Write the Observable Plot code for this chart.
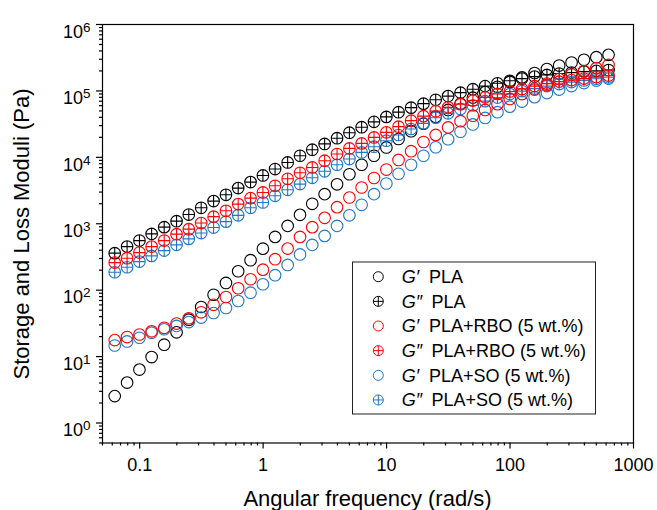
<!DOCTYPE html>
<html><head><meta charset="utf-8">
<script src="https://cdn.jsdelivr.net/npm/d3@7"></script>
<script src="https://cdn.jsdelivr.net/npm/@observablehq/plot@0.6"></script>
<style>
body{margin:0;background:#fff;}
#chart svg{font-family:"Liberation Sans",Arial,sans-serif;display:block;}
</style>
</head><body><div id="chart"></div>
<script>
// Angular frequency (rad/s)
const freq = [0.0628,0.0791,0.0996,0.125,0.158,0.199,0.25,0.315,0.397,0.5,0.628,0.791,0.996,1.25,1.58,1.99,2.5,3.15,3.97,5,6.28,7.91,9.96,12.5,15.8,19.9,25,31.5,39.7,50,62.8,79.1,99.6,125,158,199,250,315,397,500,628];
// Moduli (Pa)
const gpPLA  = [2.54,4.06,6.37,9.83,15.1,23.2,35.9,55.8,85.3,128.5,192.8,283,422,634,929,1361,1995,2793,3926,5560,7730,10570,14100,18880,24760,32140,40960,51680,64330,79250,95940,115300,136700,159900,186200,213300,240800,267300,294400,322200,349100];
const gppPLA = [361,453,558,704,889,1094,1377,1738,2193,2729,3443,4239,5336,6662,8375,10570,13020,15920,19410,23500,28440,34200,40640,47860,55970,64330,73470,83510,94230,106100,118100,130300,142000,153400,164300,174300,182500,188800,195500,200400,206100];
const gpRBO  = [17.7,19.7,21.5,24.0,27.1,31.4,37.8,46.4,60.2,78.9,106.9,146,203.7,292.4,422.5,634,889,1227,1778,2483,3516,4887,6546,9141,12360,17010,21770,28250,35010,42400,51680,63240,75710,89540,104700,122300,150700,176200,199000,220600,246600];
const gppRBO = [260,303,368,453,558,697,829,1025,1279,1566,1976,2432,2958,3733,4755,5861,7047,8892,11220,13620,16210,19950,23760,28960,35650,41690,49550,56580,63240,71450,80000,90160,98200,107200,118100,128900,138000,145500,153400,161500,170100];
const gpSO   = [14.7,16.9,19.2,22.9,25.8,29.0,33.1,38.7,45.3,53.9,68.7,91.7,122.7,167.9,239.9,345.3,480.8,656.6,929,1339,1928,2793,4036,5662,7730,10570,14190,18750,24320,31260,39170,47860,57940,69020,80540,92680,104700,118100,131200,142900,153400];
const gppSO  = [186.2,221.3,269.2,328.1,394.5,480.8,591.6,724.4,877,1076,1339,1738,2089,2636,3243,3954,4920,6166,7730,9419,11860,14450,17790,21690,26720,32460,39540,45920,53560,60390,70150,79250,89540,99300,108400,118100,126700,135800,143900,152400,160300];

const seriesMod    = ["G′","G″","G′","G″","G′","G″"];
const seriesLabel  = ["PLA","PLA","PLA+RBO (5 wt.%)","PLA+RBO (5 wt.%)","PLA+SO (5 wt.%)","PLA+SO (5 wt.%)"];
const seriesValues = [gpPLA,gppPLA,gpRBO,gppRBO,gpSO,gppSO];
const seriesColor  = ["#000000","#000000","#FF0000","#FF0000","#1F77C8","#1F77C8"];
const drawOrder    = [0,1,4,5,2,3];

const xTicks = [0.1,1,10,100,1000];
const xTickLabels = ["0.1","1","10","100","1000"];
const yTicks = [1,10,100,1000,10000,100000,1000000];
const yExponents = ["0","1","2","3","4","5","6"];

const xMinor = [];
for (let e = -2; e <= 2; e++) for (let m = 2; m <= 9; m++) { const v = m * Math.pow(10, e); if (v >= 0.05 && v <= 1000) xMinor.push(v); }
const yMinor = [];
for (let e = -1; e <= 5; e++) for (let m = 2; m <= 9; m++) { const v = m * Math.pow(10, e); if (v >= 0.5 && v <= 1e6) yMinor.push(v); }

const circlePlus = {
  draw(ctx, size) {
    const r = Math.sqrt(size / Math.PI);
    ctx.moveTo(r, 0); ctx.arc(0, 0, r, 0, 2 * Math.PI);
    ctx.moveTo(-r, 0); ctx.lineTo(r, 0);
    ctx.moveTo(0, -r); ctx.lineTo(0, r);
  }
};

const dotMarks = drawOrder.map(k => {
  const rows = freq.map((f, i) => ({f, v: seriesValues[k][i]}));
  return Plot.dot(rows, {
    x: "f", y: "v", r: 5.8,
    symbol: seriesMod[k] === "G″" ? circlePlus : "circle",
    stroke: seriesColor[k], fill: "none", strokeWidth: 1.1
  });
});

const chart = Plot.plot({
  width: 657, height: 510,
  marginLeft: 102, marginRight: 24, marginTop: 24, marginBottom: 67.5,
  style: {fontFamily: '"Liberation Sans", Arial, sans-serif', fontSize: "18px", color: "#000", background: "#fff"},
  x: {type: "log", domain: [0.05, 1000]},
  y: {type: "log", domain: [0.5, 1e6]},
  marks: [
    Plot.axisX(xMinor, {tickSize: 3, tickFormat: () => "", label: null, strokeWidth: 1.2}),
    Plot.axisX(xTicks, {tickSize: 6, tickPadding: 9.5, tickFormat: d => xTickLabels[xTicks.indexOf(d)], label: null, strokeWidth: 1.2, fontSize: 18}),
    Plot.axisY(yMinor, {tickSize: 3, tickFormat: () => "", label: null, strokeWidth: 1.2}),
    Plot.axisY(yTicks, {tickSize: 6, tickPadding: 6, tickFormat: d => "10|" + yExponents[yTicks.indexOf(d)], label: null, strokeWidth: 1.2, fontSize: 18}),
    Plot.frame({stroke: "#000", strokeWidth: 1.2}),
    ...dotMarks
  ]
});
document.getElementById("chart").appendChild(chart);

const svg = d3.select(chart);
// superscript exponents on y tick labels
svg.selectAll('g[aria-label="y-axis tick label"] text').each(function() {
  const t = this.textContent;
  if (!t.includes("|")) return;
  const [base, exp] = t.split("|");
  const el = d3.select(this);
  el.text("");
  el.attr("dy", "0.42em");
  el.append("tspan").text(base);
  el.append("tspan").attr("font-size", "13.5px").attr("dy", "-0.45em").text(exp);
});

// axis titles
svg.append("text")
  .attr("x", 367.5).attr("y", 506)
  .attr("text-anchor", "middle").attr("font-size", "22px").attr("fill", "#000")
  .text("Angular frequency (rad/s)");
svg.append("text")
  .attr("transform", "translate(29,234) rotate(-90)")
  .attr("text-anchor", "middle").attr("font-size", "22px").attr("fill", "#000")
  .text("Storage and Loss Moduli (Pa)");

// legend
const lg = svg.append("g").attr("text-anchor", "start");
lg.append("rect").attr("x", 352.5).attr("y", 262).attr("width", 243).attr("height", 152)
  .attr("fill", "#fff").attr("stroke", "#222").attr("stroke-width", 1);
seriesMod.forEach((m, i) => {
  const cy = 276.7 + i * 24.65;
  const g = lg.append("g");
  g.append("path")
    .attr("transform", `translate(378.3,${cy})`)
    .attr("d", d3.symbol(m === "G″" ? circlePlus : d3.symbolCircle, Math.PI * 5 * 5)())
    .attr("fill", "none").attr("stroke", seriesColor[i]).attr("stroke-width", 1);
  g.append("text").attr("x", 401.7).attr("y", cy).attr("dy", "0.36em")
    .attr("text-anchor", "start").attr("font-size", "18px").attr("font-style", "italic").attr("fill", "#000")
    .text(m);
  g.append("text").attr("x", m === "G″" ? 431.5 : 429).attr("y", cy).attr("dy", "0.36em")
    .attr("text-anchor", "start").attr("font-size", "18px").attr("fill", "#000")
    .text(seriesLabel[i]);
});
</script>
</body></html>
